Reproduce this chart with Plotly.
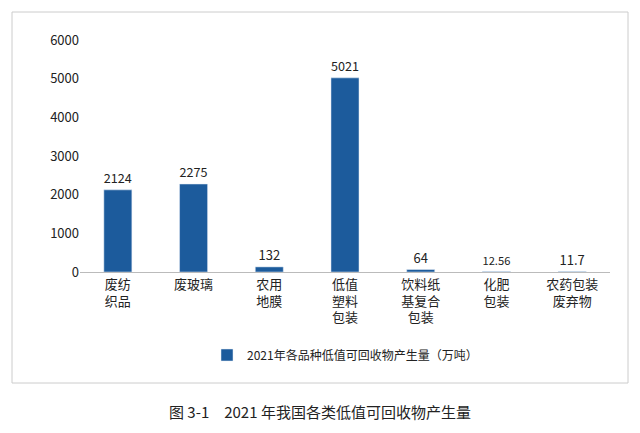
import plotly.graph_objects as go

categories = ["废纺<br>织品", "废玻璃", "农用<br>地膜", "低值<br>塑料<br>包装", "饮料纸<br>基复合<br>包装", "化肥<br>包装", "农药包装<br>废弃物"]
values = [2124, 2275, 132, 5021, 64, 12.56, 11.7]
labels = ["2124", "2275", "132", "5021", "64", "12.56", "11.7"]
series_name = "2021年各品种低值可回收物产生量（万吨）"
title = "图 3-1　2021 年我国各类低值可回收物产生量"

F = "Noto Sans CJK SC"
fig = go.Figure(go.Bar(
    x=categories, y=values, text=labels, textposition="outside",
    textfont=dict(size=13, color="#222"), cliponaxis=False,
    marker_color="#1c5b9c", width=0.37, name=series_name, showlegend=True))

O = 8
def px(x): return (x - O - 72) / 530
def py(y): return (264 - (y - O)) / 232

fig.update_layout(
    width=632, height=425, margin=dict(l=72, r=30, t=32, b=161),
    paper_bgcolor="white", plot_bgcolor="white",
    font=dict(family=F, size=13, color="#222"),
    yaxis=dict(range=[0, 6000], dtick=1000, showgrid=False, zeroline=False,
               ticks="", tickfont=dict(size=13)),
    xaxis=dict(showline=True, linecolor="#bbb", ticks="", tickfont=dict(size=13)),
    legend=dict(orientation="h", x=0.5, xanchor="center", y=py(355), yanchor="middle",
                font=dict(size=12)),
    shapes=[dict(type="rect", xref="paper", yref="paper", x0=px(12), x1=px(628),
                 y0=py(383), y1=py(12), line=dict(color="#ccc", width=1))],
    annotations=[dict(text=title, xref="paper", yref="paper", x=px(320), y=py(411),
                      xanchor="center", yanchor="middle", showarrow=False,
                      font=dict(size=15, color="#222"))],
)
fig.write_html("out.html")
